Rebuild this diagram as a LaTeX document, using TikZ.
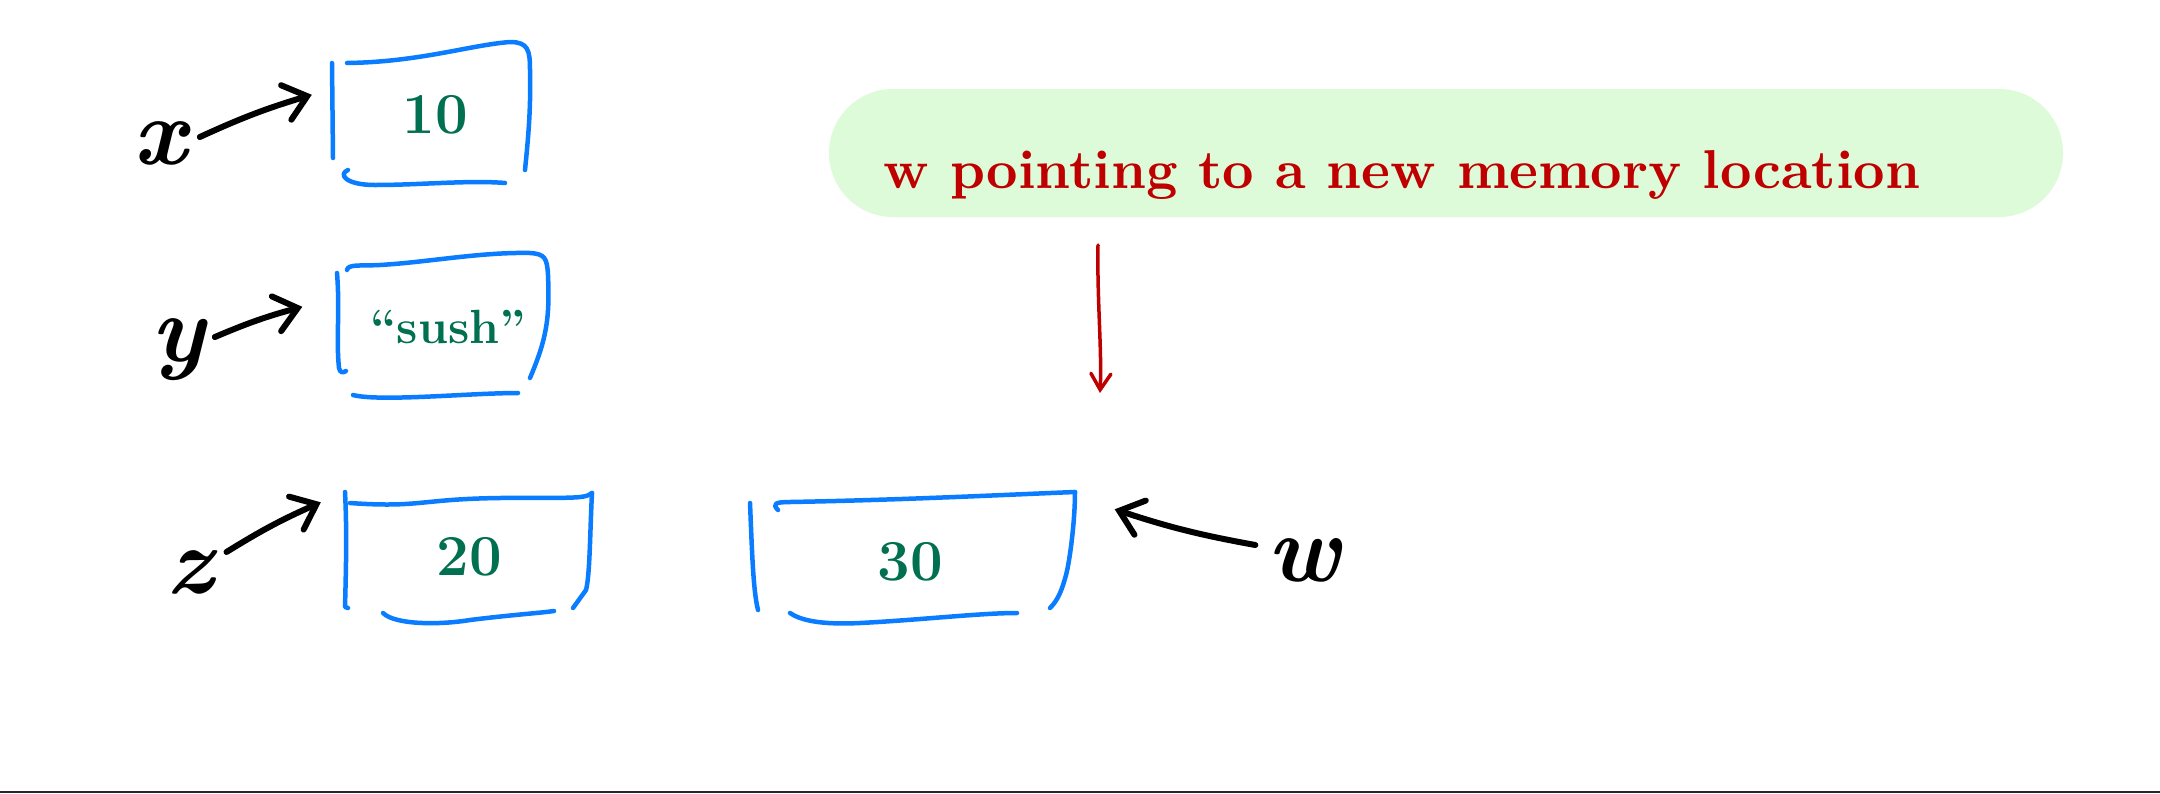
\documentclass[tikz,border=0pt]{standalone}
\usepackage{fontspec}
\usepackage{graphicx}
\usetikzlibrary{arrows.meta,calc}
\definecolor{boxblue}{RGB}{10,124,255}
\definecolor{valgreen}{RGB}{0,112,80}
\definecolor{notered}{RGB}{190,0,0}
\definecolor{bubblegreen}{RGB}{221,251,217}
\tikzset{
  cellbox/.style={draw=none,inner sep=0pt,text=valgreen,font=\fontsize{58}{58}\selectfont\bfseries},
  boxline/.style={draw=boxblue,line width=4.5pt,line cap=round,line join=round},
  varlabel/.style={inner sep=0pt,font=\fontsize{95}{95}\selectfont\bfseries\itshape},
  ptr/.style={draw=black,line width=6pt,line cap=round,line join=round,
    -{Straight Barb[length=22pt,width=36pt,line cap=round]}},
  redptr/.style={draw=notered,line width=3.5pt,line cap=round,
    -{Straight Barb[length=16pt,width=20pt,line cap=round]}},
  bubblebox/.style={fill=bubblegreen,draw=none,rounded corners=64pt,
    minimum width=1234pt,minimum height=128pt,inner sep=0pt},
  notetext/.style={text=notered,inner sep=0pt,anchor=base}
}
\begin{document}
\begin{tikzpicture}[x=1pt,y=-1pt]
\useasboundingbox (0,0) rectangle (2160,793);
\fill[white] (0,0) rectangle (2160,793);

% value boxes (invisible containers)
\node[cellbox,minimum width=198pt,minimum height=140pt] (bx) at (435,115) {10};
\node[cellbox,minimum width=211pt,minimum height=144pt,font=\fontsize{48}{48}\selectfont\bfseries] (by) at (448,327) {“sush”};
\node[cellbox,minimum width=246pt,minimum height=131pt] (bz) at (469,557) {20};
\node[cellbox,minimum width=325pt,minimum height=131pt] (b30) at (910,562) {30};

% sketchy outline: box x
\draw[boxline] (332,63) -- (333,158);
\draw[boxline] (347,63) .. controls (420,62) and (470,45) .. (510,42)
  .. controls (528,42) and (530,50) .. (530,70)
  .. controls (531,110) and (528,140) .. (525,170);
\draw[boxline] (348,170) .. controls (338,174) and (345,185) .. (375,185)
  .. controls (420,185) and (470,180) .. (505,183);
% box y
\draw[boxline] (337,273) .. controls (340,310) and (336,340) .. (339,368)
  .. controls (340,373) and (343,373) .. (346,371);
\draw[boxline] (347,270) .. controls (348,264) and (360,266) .. (380,265)
  .. controls (430,262) and (480,252) .. (530,253)
  .. controls (545,254) and (547,258) .. (548,275)
  .. controls (550,320) and (546,340) .. (530,378);
\draw[boxline] (353,395) .. controls (380,402) and (470,393) .. (518,393);
% box z
\draw[boxline] (345,492) .. controls (347,530) and (346,570) .. (345,607) -- (348,608);
\draw[boxline] (350,503) .. controls (420,508) and (420,499) .. (500,498)
  .. controls (560,497) and (585,500) .. (592,493);
\draw[boxline] (592,493) .. controls (590,530) and (590,575) .. (586,590) -- (573,608);
\draw[boxline] (383,613) .. controls (395,625) and (440,625) .. (470,620)
  .. controls (510,615) and (540,613) .. (554,611);
% box 30
\draw[boxline] (750,503) .. controls (752,550) and (753,590) .. (758,610);
\draw[boxline] (778,510) .. controls (772,504) and (775,502) .. (790,502)
  .. controls (900,500) and (1000,495) .. (1075,492);
\draw[boxline] (1075,492) .. controls (1075,520) and (1070,560) .. (1066,575)
  .. controls (1062,590) and (1058,600) .. (1050,608);
\draw[boxline] (790,613) .. controls (800,620) and (820,625) .. (860,623)
  .. controls (920,620) and (980,613) .. (1017,613);

% variable labels
\node[varlabel] (lx) at (160,143) {x};
\node[varlabel] (ly) at (178,350) {y};
\node[varlabel] (lz) at (190,572) {z};
\node[varlabel] (lw) at (1304,560) {w};

% pointers
\draw[ptr] ($(lx.east)+(13,-6)$) to[bend left=4] ($(bx.north west)+(-24,50)$);
\draw[ptr] ($(ly.east)+(10,-13)$) to[bend left=4] ($(by.north west)+(-40,52)$);
\draw[ptr] ($(lz.east)+(13,-20)$) to[bend left=4] ($(bz.north west)+(-25,11)$);
\draw[ptr] ($(lw.west)+(-12,-15)$) to[bend left=4] ($(b30.north east)+(42,13)$);

% note bubble
\node[bubblebox] (bubble) at (1446,153) {};
\node[notetext] (note) at (1402,188) {\resizebox{1036pt}{!}{\bfseries w pointing to a new memory location}};

% red arrow
\coordinate (rs) at (1098,245);
\coordinate (re) at (1100,393);
\draw[redptr] (rs) .. controls (1097,300) and (1102,350) .. (re);

% bottom rule
\draw[line width=2pt,draw=black!85] (0,792) -- (2160,792);
\end{tikzpicture}
\end{document}
